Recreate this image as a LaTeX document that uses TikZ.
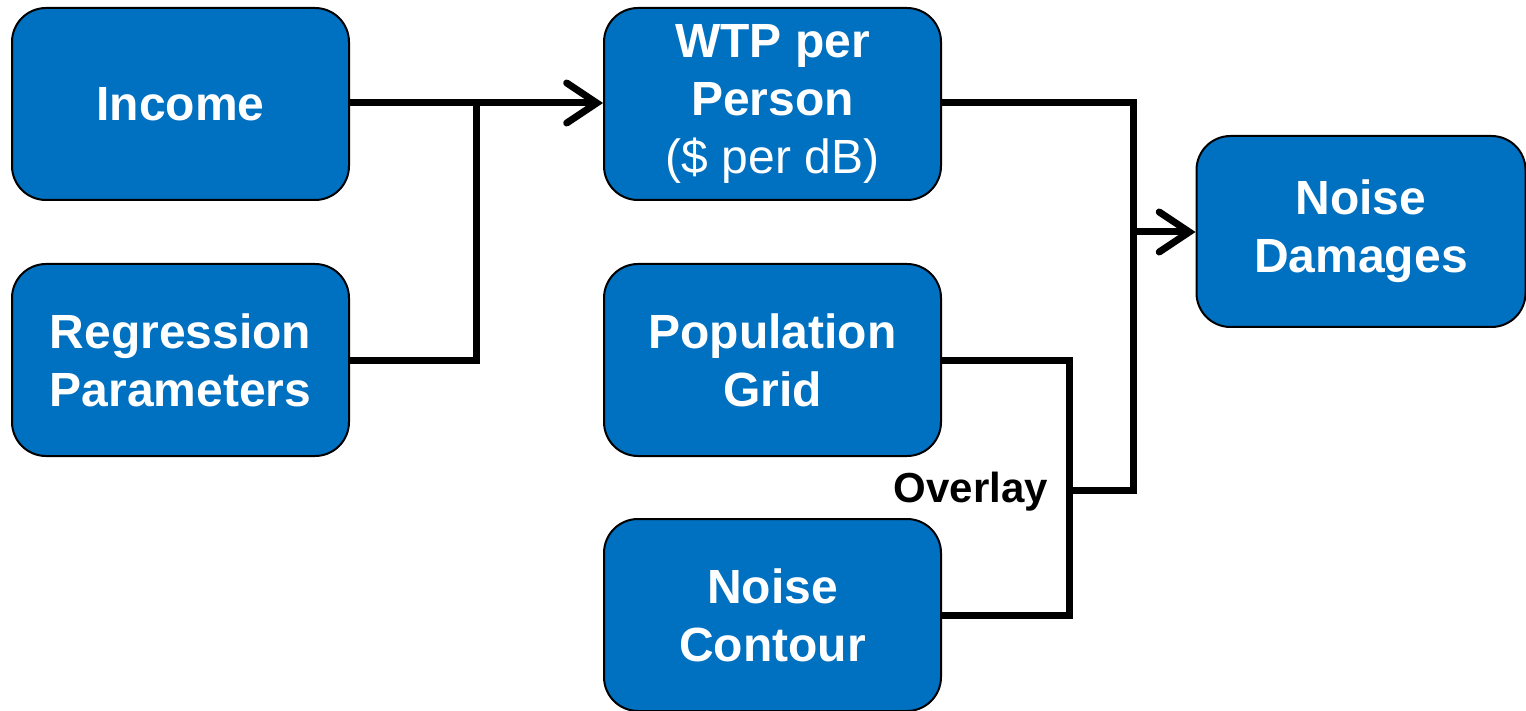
\documentclass[tikz,border=0pt]{standalone}
\usepackage{fontspec}
\setmainfont{Liberation Sans}
\usetikzlibrary{arrows.meta}
\definecolor{boxblue}{RGB}{0,112,192}
\begin{document}
\begin{tikzpicture}[x=1pt,y=-1pt,
  blk/.style={draw=black, line width=2pt, fill=boxblue, rounded corners=34pt,
    minimum width=337pt, minimum height=192pt, align=center, text=white,
    font=\fontsize{48}{58}\selectfont\bfseries, inner sep=0pt},
  conn/.style={line width=7pt, line join=miter},
  tip/.style={-{Straight Barb[length=30pt,width=40pt,line width=7pt,line cap=round]}}
]
\useasboundingbox (0,0) rectangle (1526,711);
\node[blk] (inc) at (180.5,104) {Income};
\node[blk] (reg) at (180.5,360) {Regression\\Parameters};
\node[blk] (wtp) at (772.5,104) {WTP per\\Person\\{\mdseries (\$ per dB)}};
\node[blk] (pop) at (772.5,360) {Population\\Grid};
\node[blk] (nc) at (772.5,615) {Noise\\Contour};
\node[blk, minimum width=329pt, minimum height=191pt] (nd) at (1361,231.5) {Noise\\Damages};
\coordinate (j1) at (476,103);
\coordinate (j2) at (1133,490);
\coordinate (j3) at (1069,490);
\coordinate (j4) at (1133,232);
\draw[conn, tip] (inc.east |- j1) -- (wtp.west |- j1);
\draw[conn] (reg.east) -| (j1);
\draw[conn] (wtp.east |- j1) -| (j2) -- (j3);
\draw[conn] (pop.east) -| (j3) |- (nc.east);
\draw[conn, tip] (j4) -- (nd.west |- j4);
\node[font=\fontsize{42}{48}\selectfont\bfseries, inner sep=0pt] (ov) at (971,492) {Overlay};
\end{tikzpicture}
\end{document}
